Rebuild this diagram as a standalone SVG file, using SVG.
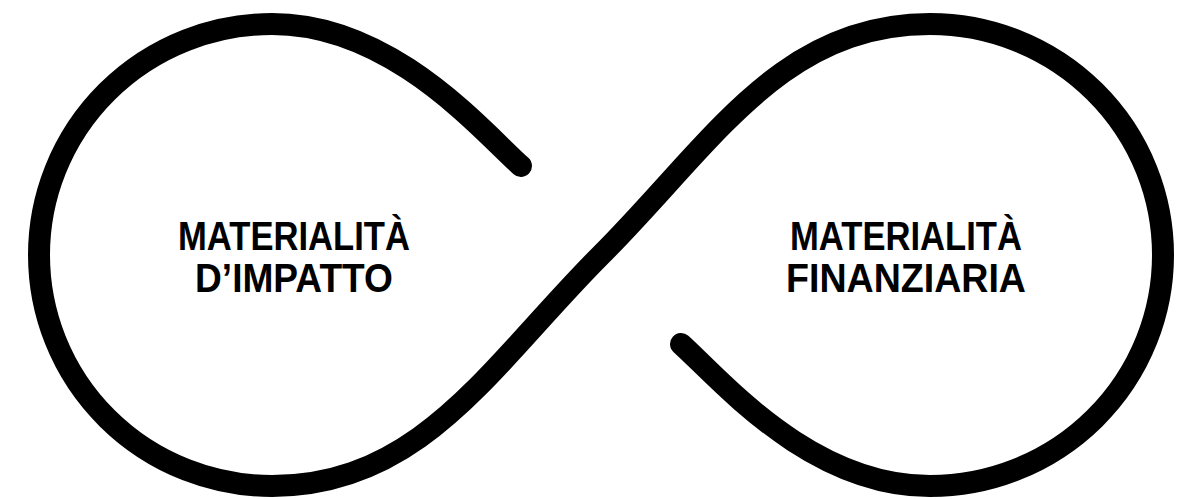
<svg xmlns="http://www.w3.org/2000/svg" width="1195" height="499" viewBox="0 0 1195 499">
<style>
.loop{fill:none;stroke:#000;stroke-width:22;stroke-linecap:round;stroke-linejoin:round}
.lbl{font-family:"Liberation Sans",Arial,sans-serif;font-weight:bold;font-size:40px;fill:#000;text-anchor:middle}
</style>
<rect width="1195" height="499" fill="#fff"/>
<g id="connectors">
<path class="loop" d="M 521 166 C 481 130 392 24 272 24 A 233 231 0 0 0 272 486 C 422 486 491 365 601 255 C 711 145 780 24 930 24 A 233 231 0 0 1 930 486 C 810 486 721 380 681 344"/>
</g>
<g id="node-impatto">
<text class="lbl" x="294" y="250" textLength="232" lengthAdjust="spacingAndGlyphs">MATERIALITÀ</text>
<text class="lbl" x="294" y="292" textLength="198" lengthAdjust="spacingAndGlyphs">D’IMPATTO</text>
</g>
<g id="node-finanziaria">
<text class="lbl" x="906" y="250" textLength="232" lengthAdjust="spacingAndGlyphs">MATERIALITÀ</text>
<text class="lbl" x="906" y="292" textLength="240" lengthAdjust="spacingAndGlyphs">FINANZIARIA</text>
</g>
</svg>
